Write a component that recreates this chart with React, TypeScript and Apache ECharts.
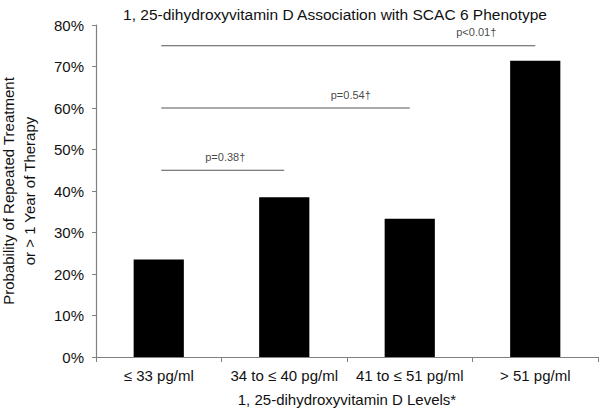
import React, { useEffect, useRef } from "react";
import * as echarts from "echarts";

const categories = ["≤ 33 pg/ml", "34 to ≤ 40 pg/ml", "41 to ≤ 51 pg/ml", "> 51 pg/ml"];
const probabilities = [23.5, 38.5, 33.3, 71.4];
const compFrom = [0, 0, 0];
const compTo = [1, 2, 3];
const compLevel = [45, 60, 75];
const compLabels = ["p=0.38†", "p=0.54†", "p<0.01†"];

const FONT = "'Liberation Sans', Arial, sans-serif";

export default function App() {
  const ref = useRef<HTMLDivElement>(null);
  useEffect(() => {
    if (!ref.current) return;
    const chart = echarts.init(ref.current, undefined, { renderer: "svg" });
    const bracketSeries = compLabels.map((lab, i) => ({
      type: "line",
      xAxisIndex: 1,
      yAxisIndex: 0,
      data: [
        [compFrom[i] + 0.02, compLevel[i]],
        [compTo[i], compLevel[i]],
      ],
      symbol: "none",
      silent: true,
      lineStyle: { color: "#555", width: 1.2 },
    }));
    const labelSeries = {
      type: "scatter",
      xAxisIndex: 1,
      yAxisIndex: 0,
      symbolSize: 0,
      silent: true,
      data: compLabels.map((lab, i) => ({
        value: [compTo[i] - 0.47, compLevel[i]],
        label: {
          show: true,
          position: "top",
          distance: 8,
          formatter: lab,
          color: "#111",
          fontSize: 11,
          fontFamily: FONT,
        },
      })),
    };
    chart.setOption({
      animation: false,
      backgroundColor: "#fff",
      title: {
        text: "1, 25-dihydroxyvitamin D Association with SCAC 6 Phenotype",
        left: 330,
        top: 0,
        textAlign: "center",
        textStyle: { fontSize: 15.5, lineHeight: 18, fontWeight: "normal", color: "#111", fontFamily: FONT },
      },
      grid: { left: 96, right: 2, top: 25, bottom: 52, containLabel: false, outerBoundsMode: "none" },
      xAxis: [
        {
          type: "category",
          data: categories,
          axisLine: { onZero: false, lineStyle: { color: "#808080", width: 1.2 } },
          axisTick: { show: true, length: 5, lineStyle: { color: "#808080" } },
          axisLabel: { color: "#111", fontSize: 15, margin: 11, interval: 0, fontFamily: FONT },
          name: "1, 25-dihydroxyvitamin D Levels*",
          nameLocation: "middle",
          nameGap: 35,
          nameTextStyle: { color: "#111", fontSize: 15, fontFamily: FONT },
        },
        { type: "value", min: -0.5, max: 3.5, show: false },
      ],
      yAxis: {
        type: "value",
        min: 0,
        max: 80,
        interval: 10,
        splitLine: { show: false },
        axisLine: { show: true, onZero: false, lineStyle: { color: "#808080", width: 1.2 } },
        axisTick: { show: true, length: 4, lineStyle: { color: "#808080" } },
        axisLabel: { formatter: "{value}%", color: "#111", fontSize: 15, margin: 12, fontFamily: FONT },
        name: "Probability of Repeated Treatment\nor > 1 Year of Therapy",
        nameLocation: "middle",
        nameGap: 56,
        nameTextStyle: { color: "#111", fontSize: 15, lineHeight: 21, fontFamily: FONT },
      },
      series: [
        {
          type: "bar",
          data: probabilities,
          barWidth: "40%",
          itemStyle: { color: "#000" },
          silent: true,
        },
        ...bracketSeries,
        labelSeries,
      ],
    });
    return () => chart.dispose();
  }, []);
  return <div ref={ref} style={{ width: 600, height: 409, position: "absolute", left: 0, top: 0 }} />;
}
